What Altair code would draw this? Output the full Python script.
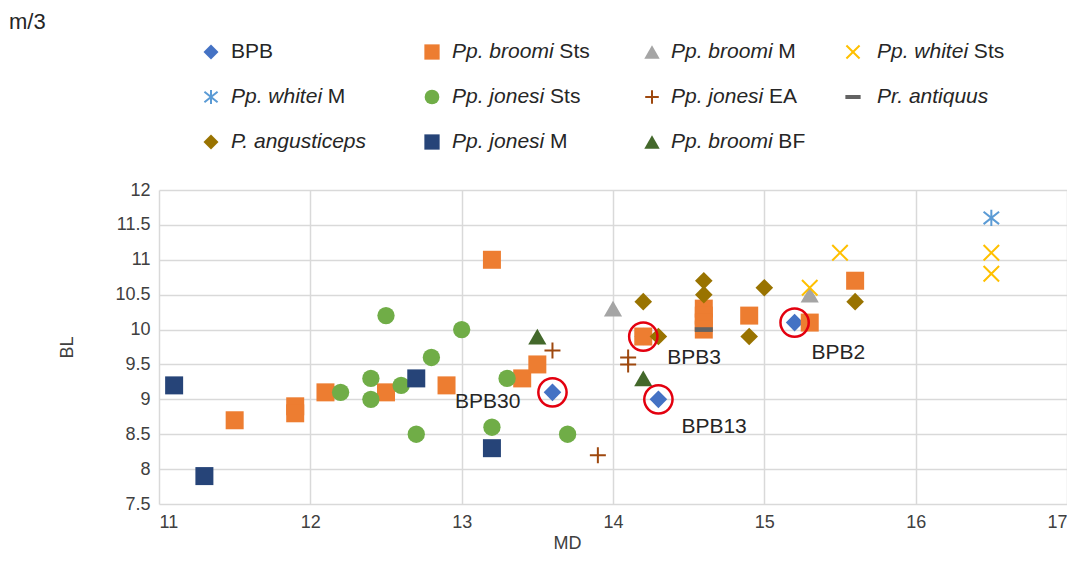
import altair as alt
import pandas as pd

FONT = "Liberation Sans"

# ---------------- data ----------------
groups = ["BPB", "Pp. broomi Sts", "Pp. broomi M", "Pp. whitei Sts",
          "Pp. whitei M", "Pp. jonesi Sts", "Pp. jonesi EA", "Pr. antiquus",
          "P. angusticeps", "Pp. jonesi M", "Pp. broomi BF"]
leg_italic = ["", "Pp. broomi", "Pp. broomi", "Pp. whitei", "Pp. whitei",
              "Pp. jonesi", "Pp. jonesi", "Pr. antiquus", "P. angusticeps",
              "Pp. jonesi", "Pp. broomi"]
leg_roman = ["BPB", "Sts", "M", "Sts", "M", "Sts", "EA", "", "", "M", "BF"]

bpb_md = [13.6, 14.2, 14.3, 15.2]
bpb_bl = [9.1, 9.9, 9.0, 10.1]
bpb_labels = ["BPB30", "BPB3", "BPB13", "BPB2"]

broomi_sts_md = [11.5, 11.9, 11.9, 12.1, 12.5, 12.9, 13.2, 13.4, 13.5, 14.2,
                 14.6, 14.6, 14.6, 14.6, 14.9, 15.3, 15.6]
broomi_sts_bl = [8.7, 8.9, 8.8, 9.1, 9.1, 9.2, 11.0, 9.3, 9.5, 9.9,
                 10.3, 10.2, 10.1, 10.0, 10.2, 10.1, 10.7]
broomi_m_md = [14.0, 15.3]
broomi_m_bl = [10.3, 10.5]
whitei_sts_md = [15.3, 15.5, 16.5, 16.5]
whitei_sts_bl = [10.6, 11.1, 11.1, 10.8]
whitei_m_md = [16.5]
whitei_m_bl = [11.6]
jonesi_sts_md = [12.2, 12.4, 12.4, 12.5, 12.6, 12.7, 12.8, 13.0, 13.2, 13.3, 13.7]
jonesi_sts_bl = [9.1, 9.3, 9.0, 10.2, 9.2, 8.5, 9.6, 10.0, 8.6, 9.3, 8.5]
jonesi_ea_md = [13.6, 13.9, 14.1, 14.1]
jonesi_ea_bl = [9.7, 8.2, 9.6, 9.5]
antiquus_md = [14.6]
antiquus_bl = [10.0]
angusticeps_md = [14.2, 14.3, 14.6, 14.6, 14.9, 15.0, 15.6]
angusticeps_bl = [10.4, 9.9, 10.7, 10.5, 9.9, 10.6, 10.4]
jonesi_m_md = [11.1, 11.3, 12.7, 13.2]
jonesi_m_bl = [9.2, 7.9, 9.3, 8.3]
broomi_bf_md = [13.5, 14.2]
broomi_bf_bl = [9.9, 9.3]

x_ticks = [11, 12, 13, 14, 15, 16, 17]
y_ticks = [7.5, 8, 8.5, 9, 9.5, 10, 10.5, 11, 11.5, 12]

series = [
    (bpb_md, bpb_bl), (broomi_sts_md, broomi_sts_bl), (broomi_m_md, broomi_m_bl),
    (whitei_sts_md, whitei_sts_bl), (whitei_m_md, whitei_m_bl),
    (jonesi_sts_md, jonesi_sts_bl), (jonesi_ea_md, jonesi_ea_bl),
    (antiquus_md, antiquus_bl), (angusticeps_md, angusticeps_bl),
    (jonesi_m_md, jonesi_m_bl), (broomi_bf_md, broomi_bf_bl),
]

rows = []
for g, (mds, bls) in zip(groups, series):
    for m, b in zip(mds, bls):
        rows.append({"group": g, "md": m, "bl": b})
df = pd.DataFrame(rows)
bpb_df = pd.DataFrame({"md": bpb_md, "bl": bpb_bl, "label": bpb_labels})

# ---------------- styles ----------------
PLUS = "M-1,0L1,0M0,-1L0,1"
XS = "M-1,-1L1,1M-1,1L1,-1"
AST = "M-1,-0.8L1,0.8M-1,0.8L1,-0.8M0,-1.05L0,1.05"
DASH = "M-1,-0.26L1,-0.26L1,0.26L-1,0.26Z"

styles = {
    "BPB":            dict(shape="diamond", color="#4472C4", size=310, filled=True),
    "Pp. broomi Sts": dict(shape="square", color="#ED7D31", size=324, filled=True),
    "Pp. broomi M":   dict(shape="triangle-up", color="#A5A5A5", size=330, filled=True),
    "Pp. whitei Sts": dict(shape=XS, color="#FFC000", size=240, filled=False, strokeWidth=2),
    "Pp. whitei M":   dict(shape=AST, color="#5B9BD5", size=240, filled=False, strokeWidth=2),
    "Pp. jonesi Sts": dict(shape="circle", color="#70AD47", size=300, filled=True),
    "Pp. jonesi EA":  dict(shape=PLUS, color="#9E480E", size=256, filled=False, strokeWidth=2),
    "Pr. antiquus":   dict(shape=DASH, color="#636363", size=324, filled=True),
    "P. angusticeps": dict(shape="diamond", color="#997300", size=310, filled=True),
    "Pp. jonesi M":   dict(shape="square", color="#264478", size=324, filled=True),
    "Pp. broomi BF":  dict(shape="triangle-up", color="#43682B", size=330, filled=True),
}

# ---------------- legend layout (plot-relative pixels) ----------------
W_ARIAL = {'P': 667, 'p': 556, '.': 278, ' ': 278, 'b': 556, 'r': 333, 'o': 556,
           'm': 833, 'i': 222, 'w': 722, 'h': 556, 't': 278, 'e': 556, 'j': 222,
           'n': 556, 's': 500, 'a': 556, 'g': 556, 'u': 556, 'c': 500, 'q': 556}
LEG_FS = 21


def text_w(s, fs):
    return sum(W_ARIAL.get(c, 556) for c in s) * fs / 1000.0


col_sym = [52, 273, 493, 694]
col_txt = [72, 293, 512, 718]
row_y = [-138, -93, -48]

leg_rows = []
for i, g in enumerate(groups):
    c, r = i % 4, i // 4
    tx = col_txt[c]
    rx = tx + text_w(leg_italic[i] + " ", LEG_FS) if leg_italic[i] else tx
    leg_rows.append({"group": g, "sx": col_sym[c], "tx": tx, "rx": rx,
                     "y": row_y[r], "it": leg_italic[i], "rm": leg_roman[i]})
leg_df = pd.DataFrame(leg_rows)

# ---------------- chart ----------------
x_enc = alt.X("md:Q", title="MD",
              scale=alt.Scale(domain=[11, 17], nice=False, zero=False),
              axis=alt.Axis(values=x_ticks, grid=True, domain=False, ticks=False,
                            labelPadding=9, labelFlush=True, titleX=408, titleY=39,
                            titleBaseline="middle", titleAlign="center"))
y_enc = alt.Y("bl:Q", title="BL",
              scale=alt.Scale(domain=[7.5, 12], nice=False, zero=False),
              axis=alt.Axis(values=y_ticks, grid=True, domain=False, ticks=False,
                            labelPadding=9, labelExpr="'' + datum.value",
                            titleX=-92, titleY=157, titleAngle=-90,
                            titleBaseline="middle", titleAlign="center"))

layers = []
for g in groups:
    st = dict(styles[g])
    layers.append(
        alt.Chart(df).transform_filter(alt.datum.group == g)
        .mark_point(opacity=1, **st)
        .encode(x=x_enc, y=y_enc)
    )

# red circles
layers.append(
    alt.Chart(bpb_df).mark_point(shape="circle", size=800, filled=False,
                                 color="#E3000F", strokeWidth=2.5, opacity=1)
    .encode(x=x_enc, y=y_enc)
)

# BPB labels
offsets = {"BPB30": ("right", -32, 10), "BPB3": ("left", 24, 21),
           "BPB13": ("left", 23, 28), "BPB2": ("left", 17, 30)}
for lab, (al, dx, dy) in offsets.items():
    layers.append(
        alt.Chart(bpb_df).transform_filter(alt.datum.label == lab)
        .mark_text(align=al, baseline="middle", dx=dx, dy=dy, font=FONT,
                   fontSize=21, color="#262626")
        .encode(x=x_enc, y=y_enc, text="label:N")
    )

# custom legend: symbols
for g in groups:
    st = dict(styles[g])
    st["size"] = st["size"] * 0.72
    layers.append(
        alt.Chart(leg_df).transform_filter(alt.datum.group == g)
        .mark_point(opacity=1, **st)
        .encode(x=alt.X("sx:Q", scale=None, axis=None),
                y=alt.Y("y:Q", scale=None, axis=None))
    )
# legend texts
layers.append(
    alt.Chart(leg_df).mark_text(align="left", baseline="middle", font=FONT,
                                fontSize=LEG_FS, fontStyle="italic", color="#262626")
    .encode(x=alt.X("tx:Q", scale=None, axis=None),
            y=alt.Y("y:Q", scale=None, axis=None), text="it:N")
)
layers.append(
    alt.Chart(leg_df).mark_text(align="left", baseline="middle", font=FONT,
                                fontSize=LEG_FS, color="#262626")
    .encode(x=alt.X("rx:Q", scale=None, axis=None),
            y=alt.Y("y:Q", scale=None, axis=None), text="rm:N")
)

# corner title
layers.append(
    alt.Chart(pd.DataFrame({"t": ["m/3"]})).mark_text(
        align="left", baseline="middle", font=FONT, fontSize=22, color="#262626")
    .encode(x=alt.value(-150), y=alt.value(-168), text="t:N")
)

chart = alt.layer(*layers).properties(
    width=908, height=314,
    padding={"left": 151, "top": 182, "right": 0, "bottom": 50},
    autosize=alt.AutoSizeParams(type="none"),
).configure_view(stroke=None).configure_axis(
    gridColor="#D9D9D9", gridWidth=1.5,
    labelFont=FONT, labelFontSize=18, labelColor="#404040",
    titleFont=FONT, titleFontSize=18, titleColor="#404040", titleFontWeight="normal",
)

chart.save("out.html", embed_options={"renderer": "svg", "actions": False})
